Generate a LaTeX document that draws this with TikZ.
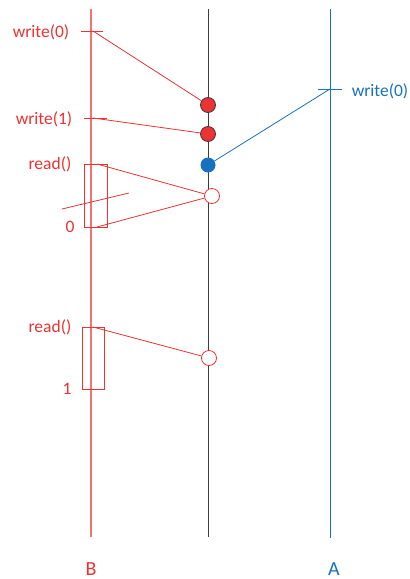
\documentclass[tikz,border=0pt]{standalone}
\usepackage{fontspec}
\setmainfont{Carlito}
\definecolor{rd}{RGB}{236,50,50}
\definecolor{rdl}{RGB}{243,115,115}
\definecolor{bl}{RGB}{22,114,190}
\definecolor{gy}{RGB}{60,60,60}
\begin{document}
\begin{tikzpicture}[x=1pt,y=-1pt,
  lbl/.style={inner sep=0pt,font=\fontsize{17.5}{20}\selectfont},
  biglbl/.style={inner sep=0pt,font=\fontsize{20}{22}\selectfont},
  rdlbl/.style={lbl,text=rd},
  bllbl/.style={lbl,text=bl},
  rline/.style={draw=rd,line width=0.8pt},
  bline/.style={draw=bl,line width=0.8pt},
  fdot/.style={circle,minimum size=15pt,inner sep=0pt,draw=gy,line width=0.8pt,fill=rd},
  bdot/.style={circle,minimum size=15pt,inner sep=0pt,fill=bl},
  odot/.style={circle,minimum size=15pt,inner sep=0pt,draw=rd,line width=0.8pt,fill=white}]
\useasboundingbox (0,0) rectangle (410,579);
% process lines
\coordinate (Btop) at (91,9);
\coordinate (Bbot) at (91,537);
\coordinate (Mtop) at (208,9);
\coordinate (Mbot) at (208,537);
\coordinate (Atop) at (330,9);
\coordinate (Abot) at (330,538);
\draw[draw=rdl,line width=1.05pt] (Btop) -- (Bbot);
\draw[draw=gy,line width=0.8pt] (Mtop) -- (Mbot);
\draw[draw=bl,line width=0.8pt] (Atop) -- (Abot);
% labels
\node[rdlbl] (w0) at (41,32) {write(0)};
\node[rdlbl] (w1) at (44,119) {write(1)};
\node[rdlbl] (r1) at (50,164) {read()};
\node[rdlbl] (z) at (70,227) {0};
\node[rdlbl] (r2) at (50,327) {read()};
\node[rdlbl] (o) at (67,389) {1};
\node[bllbl] (aw) at (380,91) {write(0)};
\node[biglbl,text=rd] (B) at (91,569) {B};
\node[biglbl,text=bl] (A) at (334,569) {A};
% ticks
\coordinate (t0a) at (81,31); \coordinate (t0b) at (103,31); \coordinate (t0) at (93,31);
\coordinate (t1a) at (84,118); \coordinate (t1b) at (107,118); \coordinate (t1) at (93,118);
\coordinate (tAa) at (318,89); \coordinate (tAb) at (342,89); \coordinate (tA) at (330,89);
\draw[rline] (t0a) -- (t0b);
\draw[rline] (t1a) -- (t1b);
\draw[bline] (tAa) -- (tAb);
% dots
\node[fdot] (d1) at (208,105) {};
\node[fdot] (d2) at (208,134) {};
\node[bdot] (d3) at (208,165) {};
\node[odot] (c1) at (212,196) {};
\node[odot] (c2) at (209,358) {};
% read boxes
\node[draw=rd,line width=0.8pt,minimum width=23pt,minimum height=63pt,inner sep=0pt] (box1) at (95.5,195.5) {};
\node[draw=rd,line width=0.8pt,minimum width=22pt,minimum height=62pt,inner sep=0pt] (box2) at (93,358) {};
% connectors
\draw[rline] (t0) -- (d1);
\draw[rline] (t1) -- (d2);
\draw[bline] (tA) -- (d3);
\coordinate (b1t) at (97,164);
\coordinate (b1b) at (97,227);
\coordinate (b2t) at (93,327);
\draw[rline] (b1t) -- (c1);
\draw[rline] (b1b) -- (c1);
\draw[rline] (b2t) -- (c2);
\coordinate (s1) at (62,209);
\coordinate (s2) at (129,193);
\draw[rline] (s1) -- (s2);
\end{tikzpicture}
\end{document}
